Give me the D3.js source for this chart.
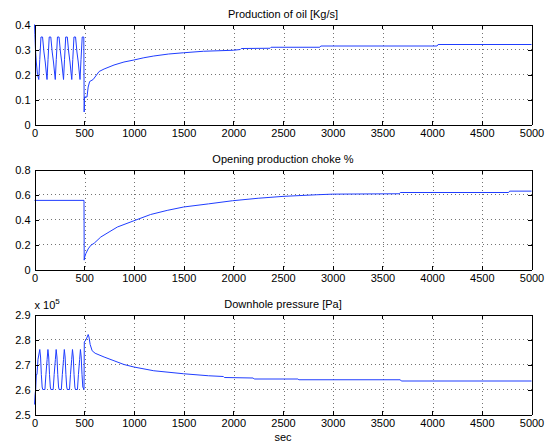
<!DOCTYPE html>
<html>
<head>
<meta charset="utf-8">
<script src="https://cdn.jsdelivr.net/npm/d3@7"></script>
<style>
  body { margin: 0; background: #fff; }
  svg { display: block; font-family: "Liberation Sans", Arial, Helvetica, sans-serif; }
  .grid line { stroke: #000; stroke-opacity: 0.55; stroke-dasharray: 1,3; shape-rendering: crispEdges; }
  .axis path, .axis line { stroke: #000; shape-rendering: crispEdges; }
  .axis text { fill: #000; font-size: 11px; }
</style>
</head>
<body>
<svg id="chart" width="552" height="445"></svg>
<script>
// time axis (sec)
const X_TICKS = [0, 500, 1000, 1500, 2000, 2500, 3000, 3500, 4000, 4500, 5000];

// production of oil [Kg/s], as [t, value]
const oilSeries = [
  [0, 0.40], [4, 0.36], [10, 0.30], [18, 0.25], [30, 0.20], [43, 0.18],
  [53, 0.26], [65, 0.35], [81, 0.35], [95, 0.29], [108, 0.25], [118, 0.21], [126, 0.18],
  [136, 0.26], [148, 0.35], [164, 0.35], [178, 0.29], [191, 0.25], [201, 0.21], [209, 0.18],
  [219, 0.26], [231, 0.35], [247, 0.35], [261, 0.29], [274, 0.25], [284, 0.21], [292, 0.18],
  [302, 0.26], [314, 0.35], [330, 0.35], [344, 0.29], [357, 0.25], [367, 0.21], [375, 0.18],
  [385, 0.26], [397, 0.35], [413, 0.35], [427, 0.29], [440, 0.25], [450, 0.21], [458, 0.18],
  [468, 0.26], [480, 0.35], [496, 0.35], [500, 0.05], [503, 0.11], [528, 0.11], [540, 0.15],
  [555, 0.172], [590, 0.18], [650, 0.212], [700, 0.222], [800, 0.238], [900, 0.25], [1000, 0.258],
  [1100, 0.267], [1200, 0.274], [1350, 0.282], [1500, 0.287], [1700, 0.293], [2000, 0.297],
  [2070, 0.300], [2080, 0.304], [2370, 0.305], [2380, 0.309], [2870, 0.309], [2880, 0.314],
  [4050, 0.314], [4060, 0.320], [5000, 0.320]
];
const oilTicks = [0, 0.1, 0.2, 0.3, 0.4];

// opening production choke %
const chokeSeries = [
  [0, 0.553], [498, 0.553], [500, 0.075], [505, 0.10], [517, 0.128], [540, 0.165], [567, 0.194],
  [600, 0.21], [667, 0.26], [750, 0.30], [834, 0.34], [1000, 0.39], [1168, 0.44], [1335, 0.473],
  [1500, 0.50], [1750, 0.525], [1990, 0.55], [2250, 0.57], [2500, 0.585], [2840, 0.598],
  [3000, 0.603], [3670, 0.606], [3680, 0.616], [4770, 0.616], [4780, 0.627], [5000, 0.627]
];
const chokeTicks = [0, 0.2, 0.4, 0.6, 0.8];

// downhole pressure [Pa]
const pressureSeries = [
  [0, 254000], [6, 258000], [12, 260000], [18, 266000], [25, 266000], [35, 272000], [53, 276000],
  [61, 273000], [69, 266000], [77, 261000], [83, 260000],
  [105, 260000], [115, 266000], [127, 272000], [135, 276000], [143, 273000], [151, 266000], [159, 261000], [165, 260000],
  [188, 260000], [198, 266000], [210, 272000], [218, 276000], [226, 273000], [234, 266000], [242, 261000], [248, 260000],
  [270, 260000], [280, 266000], [292, 272000], [300, 276000], [308, 273000], [316, 266000], [324, 261000], [330, 260000],
  [352, 260000], [362, 266000], [374, 272000], [382, 276000], [390, 273000], [398, 266000], [406, 261000], [412, 260000],
  [432, 260000], [442, 266000], [454, 272000], [462, 276000], [470, 273000], [478, 266000], [486, 261000], [498, 260000],
  [501, 279000], [520, 280000], [540, 282000], [548, 281000], [560, 278000], [580, 275500], [610, 274500],
  [700, 273000], [800, 271500], [900, 270000], [1000, 269000], [1200, 267500], [1500, 266300],
  [1750, 265500], [1900, 265200], [1910, 264800], [2200, 264600], [2210, 264200], [2650, 264200],
  [2660, 263900], [3680, 263900], [3690, 263400], [5000, 263400]
];
const pressureTicks = [250000, 260000, 270000, 280000, 290000];

const panels = [
  { title: 'Production of oil [Kg/s]', data: oilSeries, ticks: oilTicks, fmt: d => d3.format('.1f')(d).replace(/^0\.0$/, '0').replace(/^0$/, '0'), top: 24.5 },
  { title: 'Opening production choke %', data: chokeSeries, ticks: chokeTicks, fmt: d => d === 0 ? '0' : d3.format('.1f')(d), top: 169.5 },
  { title: 'Downhole pressure [Pa]', data: pressureSeries, ticks: pressureTicks, fmt: d => d3.format('.1f')(d / 1e5), top: 314.5, exponent: true }
];

const LEFT   = 34.5;
const WIDTH  = 497;
const HEIGHT = 100;

const svg = d3.select('#chart');

const x = d3.scaleLinear().domain([0, 5000]).range([0, WIDTH]);

panels.forEach(p => {
  const y = d3.scaleLinear()
    .domain([p.ticks[0], p.ticks[p.ticks.length - 1]])
    .range([HEIGHT, 0]);

  const g = svg.append('g').attr('transform', `translate(${LEFT},${p.top})`);

  // dotted grid
  const grid = g.append('g').attr('class', 'grid');
  grid.selectAll('.gx')
    .data(X_TICKS.slice(1, -1))
    .join('line')
    .attr('x1', d => Math.round(x(d)) + 0.5)
    .attr('x2', d => Math.round(x(d)) + 0.5)
    .attr('y1', 0).attr('y2', HEIGHT);
  grid.selectAll('.gy')
    .data(p.ticks.slice(1, -1))
    .join('line')
    .attr('y1', d => Math.round(y(d)))
    .attr('y2', d => Math.round(y(d)))
    .attr('x1', 0).attr('x2', WIDTH);

  // data line
  g.append('path')
    .datum(p.data)
    .attr('fill', 'none')
    .attr('stroke', '#1f3dff')
    .attr('stroke-width', 1)
    .attr('stroke-linejoin', 'round')
    .attr('d', d3.line().x(d => x(d[0])).y(d => y(d[1])));

  // axes, ticks pointing inwards on all four sides
  g.append('g').attr('class', 'axis')
    .attr('transform', `translate(0,${HEIGHT})`)
    .call(d3.axisBottom(x).tickValues(X_TICKS).tickSizeInner(-4).tickSizeOuter(0).tickPadding(5).tickFormat(d3.format('d')));
  g.append('g').attr('class', 'axis')
    .call(d3.axisTop(x).tickValues(X_TICKS).tickSizeInner(-4).tickSizeOuter(0).tickFormat(''));
  g.append('g').attr('class', 'axis')
    .call(d3.axisLeft(y).tickValues(p.ticks).tickSizeInner(-4).tickSizeOuter(0).tickPadding(4).tickFormat(p.fmt));
  g.append('g').attr('class', 'axis')
    .attr('transform', `translate(${WIDTH},0)`)
    .call(d3.axisRight(y).tickValues(p.ticks).tickSizeInner(-4).tickSizeOuter(0).tickFormat(''));

  g.append('text')
    .attr('x', WIDTH / 2)
    .attr('y', -6.5)
    .attr('text-anchor', 'middle')
    .attr('font-size', 11)
    .text(p.title);

  if (p.exponent) {
    const t = g.append('text')
      .attr('x', 0)
      .attr('y', -5.5)
      .attr('font-size', 11);
    t.append('tspan').text('x 10');
    t.append('tspan').attr('dy', -5).attr('font-size', 8).text('5');
  }
});

svg.append('text')
  .attr('x', LEFT + WIDTH / 2)
  .attr('y', 441)
  .attr('text-anchor', 'middle')
  .attr('font-size', 11)
  .text('sec');
</script>
</body>
</html>
